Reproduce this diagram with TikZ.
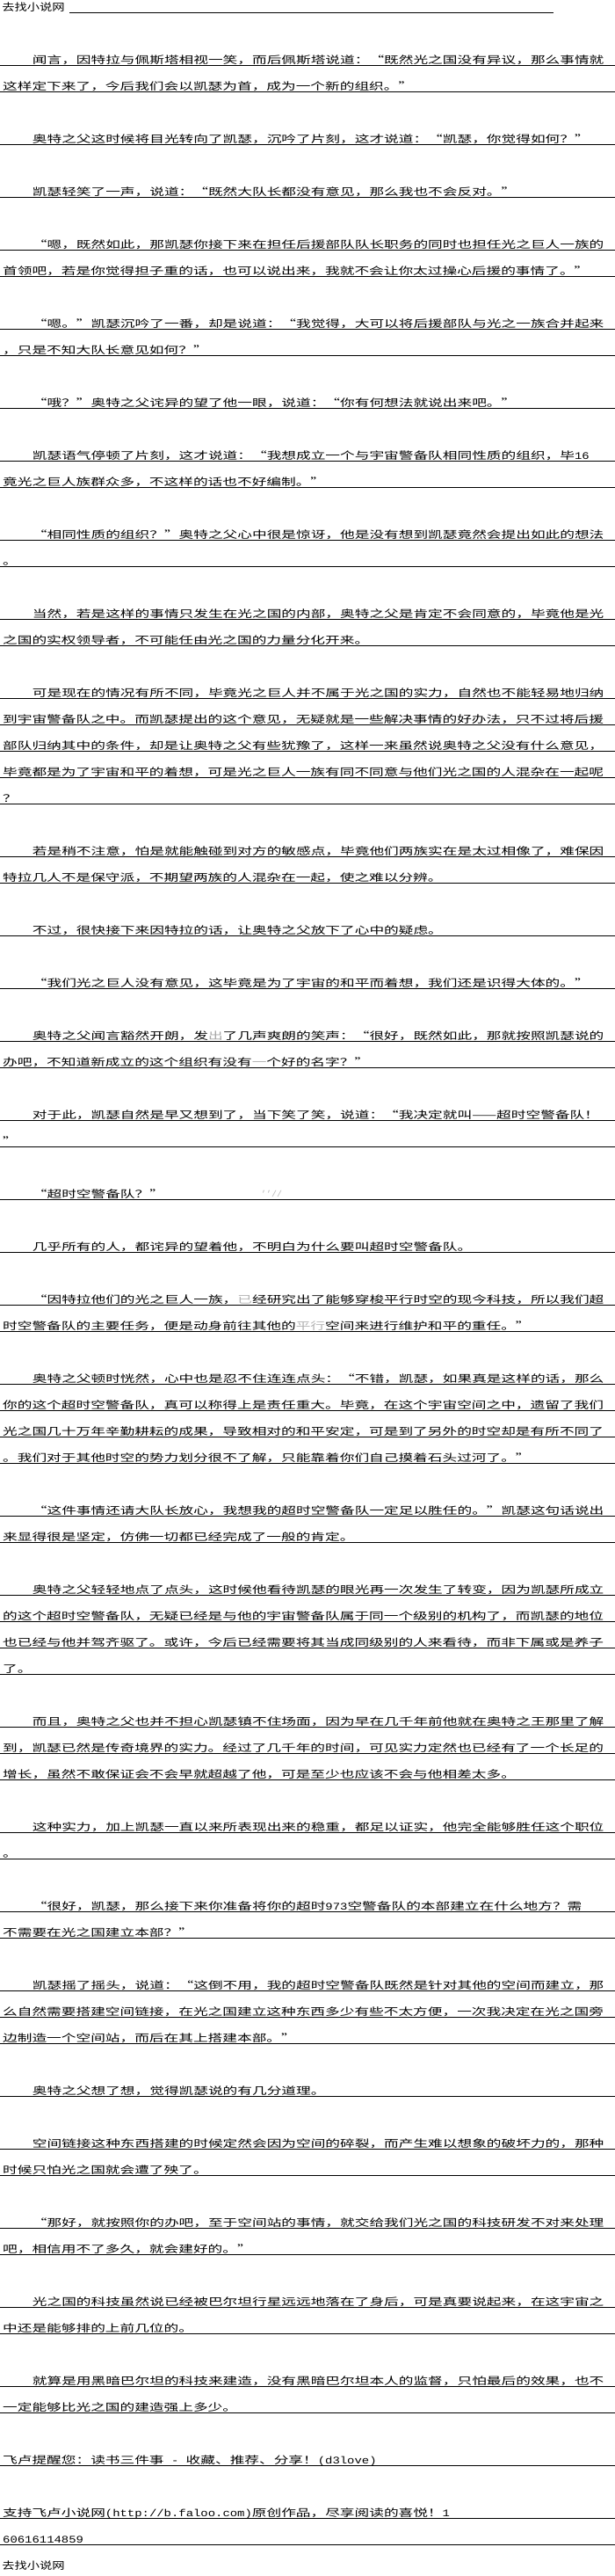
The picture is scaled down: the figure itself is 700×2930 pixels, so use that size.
\documentclass[tikz,border=0pt]{standalone}
\usepackage{graphicx}
\usepackage{fontspec}
\newfontfamily\cjk{Noto Sans CJK SC}
\newfontfamily\latmono{Liberation Mono}
\newcommand\hw[1]{\scalebox{0.834}[1]{\latmono\fontsize{11.5}{11.5}\selectfont #1}}
\tikzset{
  bodytext/.style={anchor=base west, inner sep=0pt, outer sep=0pt, font=\cjk\fontsize{11.5}{11.5}\selectfont},
  uline/.style={line width=1pt, black},
  wmark/.style={anchor=base west, inner sep=0pt, text=gray!55, font=\latmono\fontsize{10}{10}\selectfont},
}
\newcommand\xin{36.9}
\newcommand\xno{3.2}
\newcommand\txtrow[4]{%
  \node[bodytext] (#1) at (#3,{74.5+30*#2-1.8}) {\scalebox{1.4504}[1]{#4}};
  \draw[uline] (0,{74.5+30*#2}) -- (700,{74.5+30*#2});}
\begin{document}
\begin{tikzpicture}[x=1pt,y=-1pt]
\useasboundingbox (0,0) rectangle (700,2930);
\fill[white] (0,0) rectangle (700,2930);
% header
\node[bodytext] (hdr) at (2.3,12.7) {\scalebox{1.243}[1]{去找小说网}};
\coordinate (hrA) at (79,14.5);
\coordinate (hrB) at (630,14.5);
\draw[uline] (hrA) -- (hrB);
% body
\txtrow{r0}{0}{\xin}{闻言，因特拉与佩斯塔相视一笑，而后佩斯塔说道：“既然光之国没有异议，那么事情就}
\txtrow{r1}{1}{\xno}{这样定下来了，今后我们会以凯瑟为首，成为一个新的组织。”}
\txtrow{r3}{3}{\xin}{奥特之父这时候将目光转向了凯瑟，沉吟了片刻，这才说道：“凯瑟，你觉得如何？”}
\txtrow{r5}{5}{\xin}{凯瑟轻笑了一声，说道：“既然大队长都没有意见，那么我也不会反对。”}
\txtrow{r7}{7}{\xin}{“嗯，既然如此，那凯瑟你接下来在担任后援部队队长职务的同时也担任光之巨人一族的}
\txtrow{r8}{8}{\xno}{首领吧，若是你觉得担子重的话，也可以说出来，我就不会让你太过操心后援的事情了。”}
\txtrow{r10}{10}{\xin}{“嗯。”凯瑟沉吟了一番，却是说道：“我觉得，大可以将后援部队与光之一族合并起来}
\txtrow{r11}{11}{\xno}{，只是不知大队长意见如何？”}
\txtrow{r13}{13}{\xin}{“哦？”奥特之父诧异的望了他一眼，说道：“你有何想法就说出来吧。”}
\txtrow{r15}{15}{\xin}{凯瑟语气停顿了片刻，这才说道：“我想成立一个与宇宙警备队相同性质的组织，毕\hw{16}}
\txtrow{r16}{16}{\xno}{竟光之巨人族群众多，不这样的话也不好编制。”}
\txtrow{r18}{18}{\xin}{“相同性质的组织？”奥特之父心中很是惊讶，他是没有想到凯瑟竟然会提出如此的想法}
\txtrow{r19}{19}{\xno}{。}
\txtrow{r21}{21}{\xin}{当然，若是这样的事情只发生在光之国的内部，奥特之父是肯定不会同意的，毕竟他是光}
\txtrow{r22}{22}{\xno}{之国的实权领导者，不可能任由光之国的力量分化开来。}
\txtrow{r24}{24}{\xin}{可是现在的情况有所不同，毕竟光之巨人并不属于光之国的实力，自然也不能轻易地归纳}
\txtrow{r25}{25}{\xno}{到宇宙警备队之中。而凯瑟提出的这个意见，无疑就是一些解决事情的好办法，只不过将后援}
\txtrow{r26}{26}{\xno}{部队归纳其中的条件，却是让奥特之父有些犹豫了，这样一来虽然说奥特之父没有什么意见，}
\txtrow{r27}{27}{\xno}{毕竟都是为了宇宙和平的着想，可是光之巨人一族有同不同意与他们光之国的人混杂在一起呢}
\txtrow{r28}{28}{\xno}{？}
\txtrow{r30}{30}{\xin}{若是稍不注意，怕是就能触碰到对方的敏感点，毕竟他们两族实在是太过相像了，难保因}
\txtrow{r31}{31}{\xno}{特拉几人不是保守派，不期望两族的人混杂在一起，使之难以分辨。}
\txtrow{r33}{33}{\xin}{不过，很快接下来因特拉的话，让奥特之父放下了心中的疑虑。}
\txtrow{r35}{35}{\xin}{“我们光之巨人没有意见，这毕竟是为了宇宙的和平而着想，我们还是识得大体的。”}
\txtrow{r37}{37}{\xin}{奥特之父闻言豁然开朗，发{\color{gray!70}出}了几声爽朗的笑声：“很好，既然如此，那就按照凯瑟说的}
\txtrow{r38}{38}{\xno}{办吧，不知道新成立的这个组织有没有{\color{gray!60}一}个好的名字？”}
\txtrow{r40}{40}{\xin}{对于此，凯瑟自然是早又想到了，当下笑了笑，说道：“我决定就叫——超时空警备队！}
\txtrow{r41}{41}{\xno}{”}
\txtrow{r43}{43}{\xin}{“超时空警备队？”}
\node[wmark] (wm) at (297,1361) {’’//};
\txtrow{r45}{45}{\xin}{几乎所有的人，都诧异的望着他，不明白为什么要叫超时空警备队。}
\txtrow{r47}{47}{\xin}{“因特拉他们的光之巨人一族，{\color{gray!60}已}经研究出了能够穿梭平行时空的现今科技，所以我们超}
\txtrow{r48}{48}{\xno}{时空警备队的主要任务，便是动身前往其他的{\color{gray!60}平行}空间来进行维护和平的重任。”}
\txtrow{r50}{50}{\xin}{奥特之父顿时恍然，心中也是忍不住连连点头：“不错，凯瑟，如果真是这样的话，那么}
\txtrow{r51}{51}{\xno}{你的这个超时空警备队，真可以称得上是责任重大。毕竟，在这个宇宙空间之中，遗留了我们}
\txtrow{r52}{52}{\xno}{光之国几十万年辛勤耕耘的成果，导致相对的和平安定，可是到了另外的时空却是有所不同了}
\txtrow{r53}{53}{\xno}{。我们对于其他时空的势力划分很不了解，只能靠着你们自己摸着石头过河了。”}
\txtrow{r55}{55}{\xin}{“这件事情还请大队长放心，我想我的超时空警备队一定足以胜任的。”凯瑟这句话说出}
\txtrow{r56}{56}{\xno}{来显得很是坚定，仿佛一切都已经完成了一般的肯定。}
\txtrow{r58}{58}{\xin}{奥特之父轻轻地点了点头，这时候他看待凯瑟的眼光再一次发生了转变，因为凯瑟所成立}
\txtrow{r59}{59}{\xno}{的这个超时空警备队，无疑已经是与他的宇宙警备队属于同一个级别的机构了，而凯瑟的地位}
\txtrow{r60}{60}{\xno}{也已经与他并驾齐驱了。或许，今后已经需要将其当成同级别的人来看待，而非下属或是养子}
\txtrow{r61}{61}{\xno}{了。}
\txtrow{r63}{63}{\xin}{而且，奥特之父也并不担心凯瑟镇不住场面，因为早在几千年前他就在奥特之王那里了解}
\txtrow{r64}{64}{\xno}{到，凯瑟已然是传奇境界的实力。经过了几千年的时间，可见实力定然也已经有了一个长足的}
\txtrow{r65}{65}{\xno}{增长，虽然不敢保证会不会早就超越了他，可是至少也应该不会与他相差太多。}
\txtrow{r67}{67}{\xin}{这种实力，加上凯瑟一直以来所表现出来的稳重，都足以证实，他完全能够胜任这个职位}
\txtrow{r68}{68}{\xno}{。}
\txtrow{r70}{70}{\xin}{“很好，凯瑟，那么接下来你准备将你的超时\hw{973}空警备队的本部建立在什么地方？需}
\txtrow{r71}{71}{\xno}{不需要在光之国建立本部？”}
\txtrow{r73}{73}{\xin}{凯瑟摇了摇头，说道：“这倒不用，我的超时空警备队既然是针对其他的空间而建立，那}
\txtrow{r74}{74}{\xno}{么自然需要搭建空间链接，在光之国建立这种东西多少有些不太方便，一次我决定在光之国旁}
\txtrow{r75}{75}{\xno}{边制造一个空间站，而后在其上搭建本部。”}
\txtrow{r77}{77}{\xin}{奥特之父想了想，觉得凯瑟说的有几分道理。}
\txtrow{r79}{79}{\xin}{空间链接这种东西搭建的时候定然会因为空间的碎裂，而产生难以想象的破坏力的，那种}
\txtrow{r80}{80}{\xno}{时候只怕光之国就会遭了殃了。}
\txtrow{r82}{82}{\xin}{“那好，就按照你的办吧，至于空间站的事情，就交给我们光之国的科技研发不对来处理}
\txtrow{r83}{83}{\xno}{吧，相信用不了多久，就会建好的。”}
\txtrow{r85}{85}{\xin}{光之国的科技虽然说已经被巴尔坦行星远远地落在了身后，可是真要说起来，在这宇宙之}
\txtrow{r86}{86}{\xno}{中还是能够排的上前几位的。}
\txtrow{r88}{88}{\xin}{就算是用黑暗巴尔坦的科技来建造，没有黑暗巴尔坦本人的监督，只怕最后的效果，也不}
\txtrow{r89}{89}{\xno}{一定能够比光之国的建造强上多少。}
\txtrow{r91}{91}{\xno}{飞卢提醒您：读书三件事\hw{~-~}收藏、推荐、分享！\hw{(d3love)}}
\txtrow{r93}{93}{\xno}{支持飞卢小说网\hw{(http://b.faloo.com)}原创作品，尽享阅读的喜悦！\hw{1}}
\txtrow{r94}{94}{\xno}{\hw{60616114859}}
% footer
\node[bodytext] (ftr) at (2.3,2922.7) {\scalebox{1.243}[1]{去找小说网}};
\end{tikzpicture}
\end{document}
